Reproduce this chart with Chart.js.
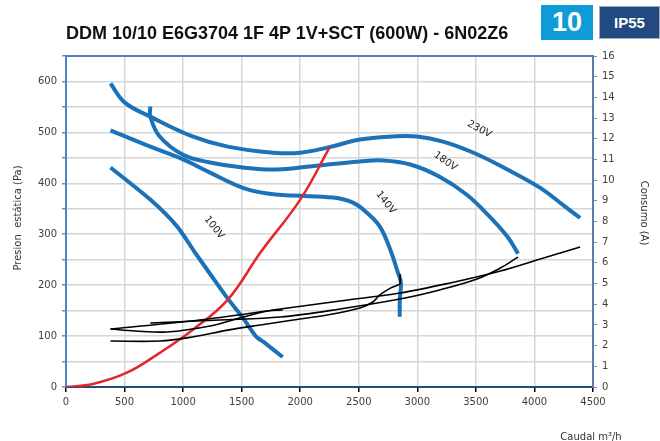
<!DOCTYPE html>
<html>
<head>
<meta charset="utf-8">
<script src="https://cdn.jsdelivr.net/npm/chart.js"></script>
<style>
  body { margin: 0; background: #fff; }
  #wrap { position: relative; width: 660px; height: 441px; }
  #chart { position: absolute; left: 0; top: 0; }
  #title {
    position: absolute; left: 66px; top: 23px;
    font: bold 18px "Liberation Sans", Arial, sans-serif; color: #111;
    white-space: nowrap; line-height: 20px;
  }
  .badge {
    position: absolute; color: #fff; text-align: center; font-weight: bold;
    font-family: "Liberation Sans Narrow", "Liberation Sans", Arial, sans-serif;
  }
  #speed { left: 541px; top: 5px; width: 52px; height: 35px; line-height: 35px; background: #0f9bd7; font-size: 27px; }
  #ip { left: 599px; top: 6px; width: 61px; height: 33px; line-height: 33px; background: #234a80; font-size: 15px; box-shadow: inset 0 0 0 1px #9aaac0; }
</style>
</head>
<body>
<div id="wrap">
  <canvas id="chart" width="660" height="441"></canvas>
  <div id="title">DDM 10/10 E6G3704 1F 4P 1V+SCT (600W) - 6N02Z6</div>
  <div class="badge" id="speed">10</div>
  <div class="badge" id="ip">IP55</div>
</div>

<script>
// pressure curves (m3/h -> Pa)
const flow230 = [380, 500, 720, 1080, 1380, 1770, 2000, 2230, 2510, 2790, 3000, 3220, 3480, 3770, 4050, 4240, 4390];
const pres230 = [596, 559, 531, 492, 472, 460, 460, 470, 486, 492, 492, 482, 460, 427, 391, 358, 332];

const flow180 = [720, 720, 800, 1000, 1230, 1510, 1800, 2080, 2510, 2710, 2940, 3190, 3420, 3620, 3770, 3860];
const pres180 = [551, 531, 492, 456, 441, 431, 427, 433, 443, 445, 437, 413, 378, 334, 295, 262];

const flow140 = [380, 720, 1000, 1230, 1510, 1720, 1940, 2280, 2450, 2570, 2680, 2770, 2835, 2860, 2850, 2850];
const pres140 = [504, 472, 447, 421, 391, 380, 376, 372, 362, 342, 315, 269, 224, 205, 171, 138];

const flow100 = [380, 720, 950, 1090, 1240, 1380, 1510, 1620, 1690, 1850];
const pres100 = [431, 368, 315, 268, 219, 174, 136, 100, 88, 59];

// installation curve
const flowSys = [0, 230, 520, 800, 1080, 1380, 1660, 2000, 2250];
const presSys = [0, 6, 28, 67, 112, 171, 264, 368, 470];

// current draw (m3/h -> A)
const ampFlow230 = [380, 1140, 1830, 2340, 2850, 3280, 3710, 4050, 4390];
const amp230 = [2.80, 3.24, 3.77, 4.16, 4.54, 5.03, 5.61, 6.19, 6.77];

const ampFlow180 = [720, 1310, 1830, 2340, 2850, 3190, 3510, 3710, 3860];
const amp180 = [3.09, 3.24, 3.38, 3.77, 4.25, 4.69, 5.22, 5.75, 6.28];

const ampFlow140 = [380, 800, 1080, 1380, 1660, 1940, 2230, 2510, 2620, 2680, 2770, 2835, 2852, 2852];
const amp140 = [2.22, 2.22, 2.42, 2.75, 3.00, 3.24, 3.48, 3.82, 4.11, 4.45, 4.78, 4.93, 4.98, 5.46];

const ampFlow100 = [380, 590, 860, 1230, 1510, 1720, 1850];
const amp100 = [2.80, 2.71, 2.66, 2.95, 3.38, 3.67, 3.72];

// voltage tags along the curves
const tagText = ['230V', '180V', '140V', '100V'];
const tagFlow = [3530, 3240, 2730, 1265];
const tagPres = [506, 443, 362, 313];
const tagAngle = [28, 35, 52, 52];

const pts = (xs, ys) => xs.map((v, i) => ({ x: v, y: ys[i] }));

const BLUE = '#1b72b8';
const tickFont = { family: '"DejaVu Sans", Verdana, sans-serif', size: 10 };

function blue(xs, ys, t = 0.4) {
  return { data: pts(xs, ys), borderColor: BLUE, borderWidth: 4, tension: t, yAxisID: 'y', order: 3 };
}
function black(xs, ys) {
  return { data: pts(xs, ys), borderColor: '#000', borderWidth: 1.6, tension: 0.35, yAxisID: 'y1', order: 1 };
}

const extras = {
  id: 'extras',
  afterDraw(chart) {
    const { ctx, chartArea: a, scales: { x, y } } = chart;
    ctx.save();
    ctx.strokeStyle = '#4f7fb8';
    ctx.lineWidth = 2;
    ctx.beginPath();
    ctx.moveTo(a.left, a.top);
    ctx.lineTo(a.right, a.top);
    ctx.stroke();

    ctx.font = '10px "DejaVu Sans", Verdana, sans-serif';
    ctx.fillStyle = '#222';
    ctx.textAlign = 'center';
    ctx.textBaseline = 'middle';
    tagText.forEach((t, i) => {
      ctx.save();
      ctx.translate(x.getPixelForValue(tagFlow[i]), y.getPixelForValue(tagPres[i]));
      ctx.rotate(tagAngle[i] * Math.PI / 180);
      ctx.fillText(t, 0, 0);
      ctx.restore();
    });

    // axis titles
    ctx.fillStyle = '#333';
    ctx.save();
    ctx.translate(18, 218);
    ctx.rotate(-Math.PI / 2);
    ctx.fillText('Presion  estática (Pa)', 0, 0);
    ctx.restore();
    ctx.save();
    ctx.translate(644, 213);
    ctx.rotate(Math.PI / 2);
    ctx.fillText('Consumo (A)', 0, 0);
    ctx.restore();
    ctx.fillText('Caudal m³/h', 591, 437);
    ctx.restore();
  }
};

new Chart(document.getElementById('chart'), {
  type: 'line',
  data: {
    datasets: [
      blue(flow230, pres230),
      blue(flow180, pres180),
      blue(flow140, pres140),
      blue(flow100, pres100, 0.25),
      { data: pts(flowSys, presSys), borderColor: '#e3262b', borderWidth: 2.5, tension: 0.4, yAxisID: 'y', order: 2 },
      black(ampFlow230, amp230),
      black(ampFlow180, amp180),
      black(ampFlow140, amp140),
      black(ampFlow100, amp100)
    ]
  },
  options: {
    responsive: false,
    animation: false,
    layout: { padding: { top: 56, left: 0, right: 0, bottom: 0 } },
    elements: { point: { radius: 0 } },
    plugins: { legend: { display: false }, tooltip: { enabled: false } },
    scales: {
      x: {
        type: 'linear', min: 0, max: 4500,
        afterFit: s => { s.height = 54; },
        ticks: { stepSize: 500, maxRotation: 0, autoSkip: false, color: '#404040', font: tickFont, padding: 4,
                 callback: v => String(v) },
        grid: { color: '#d6d6d6', lineWidth: 1.5, tickColor: '#000', tickLength: 5 },
        border: { color: '#1f4e79', width: 2 }
      },
      y: {
        position: 'left', min: 0, max: 650,
        afterFit: s => { s.width = 66; },
        ticks: { stepSize: 50, color: '#404040', font: tickFont, padding: 5,
                 callback: v => v % 100 === 0 ? String(v) : '' },
        grid: { color: '#d6d6d6', lineWidth: 1.5, tickColor: '#888', tickLength: 4 },
        border: { color: '#4a86c5', width: 2 }
      },
      y1: {
        position: 'right', min: 0, max: 16,
        afterFit: s => { s.width = 67; },
        ticks: { stepSize: 0.5, color: '#404040', font: tickFont, padding: 5,
                 callback: v => Number.isInteger(v) ? String(v) : '' },
        grid: { drawOnChartArea: false, tickColor: '#7890ad', tickLength: 4 },
        border: { color: '#5a7fa6', width: 2 }
      }
    }
  },
  plugins: [extras]
});
</script>
</body>
</html>
